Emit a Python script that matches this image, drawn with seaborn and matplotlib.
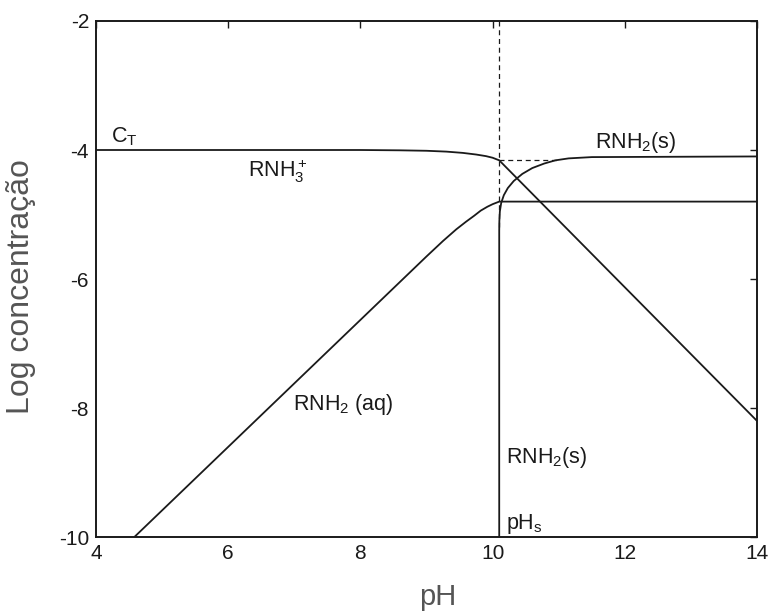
import matplotlib
matplotlib.use("Agg")
import matplotlib.pyplot as plt
import seaborn as sns
import pandas as pd

# ---- data ----
ph_rnh3 = [4.0, 8.0, 8.6, 9.0, 9.3, 9.55, 9.75, 9.9, 10.0, 10.1, 14.0]
log_rnh3 = [-4.0, -4.0, -4.005, -4.012, -4.025, -4.045, -4.07, -4.095, -4.12, -4.16, -8.2]

ph_aq = [4.58, 9.0, 9.25, 9.45, 9.6, 9.72, 9.82, 9.92, 10.0, 10.1, 14.0]
log_aq = [-10.0, -5.65, -5.41, -5.23, -5.11, -5.02, -4.94, -4.88, -4.84, -4.8, -4.8]

ph_solid = [10.1, 10.1, 10.102, 10.11, 10.13, 10.17, 10.23, 10.32, 10.45, 10.6, 10.78,
            10.95, 11.15, 11.5, 14.0]
log_solid = [-10.0, -5.25, -5.1, -4.95, -4.82, -4.7, -4.59, -4.48, -4.37, -4.28, -4.21,
             -4.16, -4.13, -4.11, -4.1]

dash_v_ph = [10.1, 10.1]
dash_v_log = [-2.0, -5.2]
dash_h_ph = [10.1, 11.0]
dash_h_log = [-4.15, -4.15]

xticks = [4, 6, 8, 10, 12, 14]
yticks = [-2, -4, -6, -8, -10]

labels = ["C$_\\mathregular{T}$", "RNH$_3^+$", "RNH$_2$(s)", "RNH$_2$ (aq)", "RNH$_2$(s)", "pH$_\\mathregular{s}$"]
label_x = [4.22, 6.3, 11.55, 6.98, 10.2, 10.2]
label_y = [-3.8, -4.33, -3.88, -7.95, -8.76, -9.8]

# ---- plotting ----
sns.set_theme(style="white")
plt.rcParams["font.family"] = ["Liberation Sans", "DejaVu Sans"]
plt.rcParams["mathtext.fontset"] = "custom"
plt.rcParams["mathtext.rm"] = "Liberation Sans"
plt.rcParams["mathtext.it"] = "Liberation Sans"
plt.rcParams["mathtext.default"] = "regular"

fig = plt.figure(figsize=(7.68, 6.12), dpi=100)
ax = fig.add_axes([0.125, 0.1225, 0.8607, 0.8432])

lc = "#1a1a1a"
lw = 1.3

def draw(xs, ys, **kw):
    df = pd.DataFrame({"pH": xs, "logc": ys})
    sns.lineplot(data=df, x="pH", y="logc", sort=False, estimator=None,
                 ax=ax, color=lc, **kw)

draw(ph_rnh3, log_rnh3, linewidth=lw)
draw(ph_aq, log_aq, linewidth=lw)
draw(ph_solid, log_solid, linewidth=lw)
draw(dash_v_ph, dash_v_log, linewidth=0.9, linestyle=(0, (4, 3)))
draw(dash_h_ph, dash_h_log, linewidth=0.9, linestyle=(0, (4, 3)))

for t, x, y in zip(labels, label_x, label_y):
    ax.text(x, y, t, fontsize=15.5, color="#1a1a1a", ha="left", va="center")

ax.set_xlim(4, 14)
ax.set_ylim(-10, -2)
ax.set_xticks(xticks)
ax.set_yticks(yticks)
ax.set_yticklabels([str(v) for v in yticks])
ax.tick_params(direction="in", length=5, width=1, top=True, right=True,
               labelsize=15, colors="#1a1a1a", pad=5)
for s in ax.spines.values():
    s.set_color("#1a1a1a")
    s.set_linewidth(1.4)
    s.set_visible(True)

ax.set_xlabel("pH", fontsize=21, color="#555555", va="center", ha="center")
ax.set_ylabel("Log concentração", fontsize=23, color="#555555", va="center", ha="center")
ax.xaxis.set_label_coords(0.517, -0.116)
ax.yaxis.set_label_coords(-0.1135, 0.486)

fig.savefig("out.png", dpi=100)
